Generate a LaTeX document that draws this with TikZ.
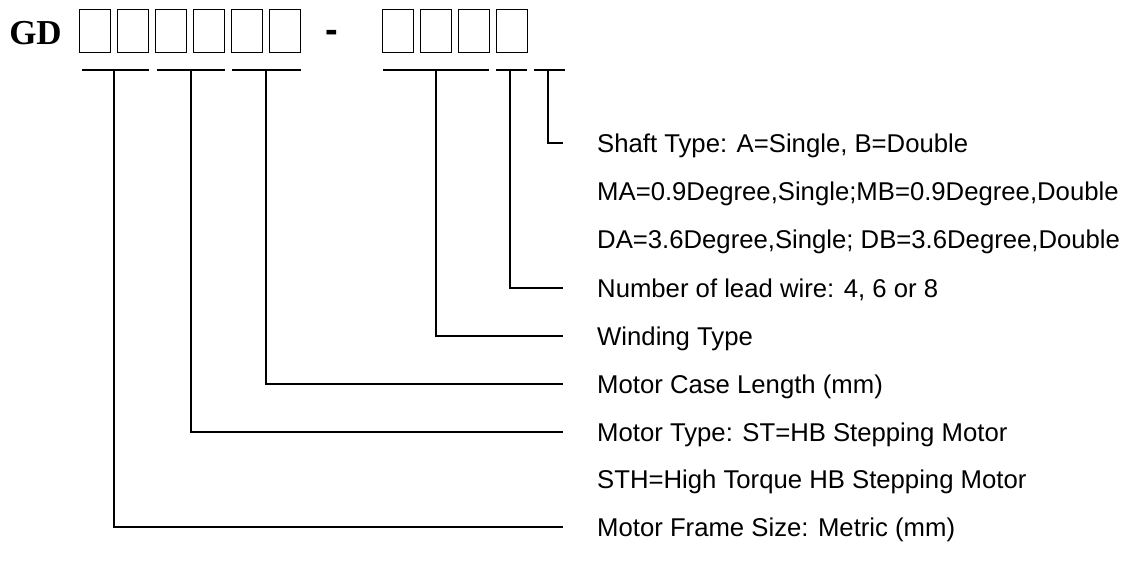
\documentclass[tikz,border=0pt]{standalone}
\usepackage{fontspec}
\setmainfont{Liberation Sans}
\newfontfamily\gdfont{Liberation Serif}
\begin{document}
\begin{tikzpicture}[x=1pt,y=-1pt,
  cell/.style={draw, line width=1.3pt, minimum width=30.5pt, minimum height=42.5pt, inner sep=0pt},
  conn/.style={line width=1.2pt, shorten >=34pt},
  uline/.style={line width=1.2pt},
  lab/.style={anchor=west, inner sep=0pt, text height=18pt, text depth=0pt,
    font=\fontsize{25.7}{30}\selectfont}]
\useasboundingbox (0,0) rectangle (1128,568);
% title
\node[inner sep=0pt, font=\gdfont\bfseries\fontsize{35}{40}\selectfont] (gd) at (35.5,33) {GD};
\foreach \i/\x in {1/95,2/133,3/171,4/209,5/247,6/285}{
  \node[cell] (a\i) at (\x,31) {};
}
\node[inner sep=0pt, font=\bfseries\fontsize{38}{40}\selectfont] (dash) at (332,36) {-};
\foreach \i/\x in {1/398,2/436,3/474,4/512}{
  \node[cell] (b\i) at (\x,31) {};
}
% underline coordinates
\coordinate (u1l) at (82,70);  \coordinate (u1r) at (149,70); \coordinate (u1m) at (114,70);
\coordinate (u2l) at (157,70); \coordinate (u2r) at (225,70); \coordinate (u2m) at (191,70);
\coordinate (u3l) at (232,70); \coordinate (u3r) at (301,70); \coordinate (u3m) at (266,70);
\coordinate (u4l) at (383,70); \coordinate (u4r) at (489,70); \coordinate (u4m) at (436,70);
\coordinate (u5l) at (496,70); \coordinate (u5r) at (527,70); \coordinate (u5m) at (510,70);
\coordinate (u6l) at (534,70); \coordinate (u6r) at (565,70); \coordinate (u6m) at (548,70);
\foreach \k in {1,...,6}{ \draw[uline] (u\k l) -- (u\k r); }
% labels
\node[lab] (t1) at (597,143) {Shaft Type: A=Single, B=Double};
\node[lab] (t2) at (597,191) {MA=0.9Degree,Single;MB=0.9Degree,Double};
\node[lab] (t3) at (597,239) {DA=3.6Degree,Single; DB=3.6Degree,Double};
\node[lab] (t4) at (597,288) {Number of lead wire: 4, 6 or 8};
\node[lab] (t5) at (597,336) {Winding Type};
\node[lab] (t6) at (597,384) {Motor Case Length (mm)};
\node[lab] (t7) at (597,432) {Motor Type: ST=HB Stepping Motor};
\node[lab] (t8) at (597,479) {STH=High Torque HB Stepping Motor};
\node[lab] (t9) at (597,527) {Motor Frame Size: Metric (mm)};
% connectors
\draw[conn] (u6m) |- (t1.west);
\draw[conn] (u5m) |- (t4.west);
\draw[conn] (u4m) |- (t5.west);
\draw[conn] (u3m) |- (t6.west);
\draw[conn] (u2m) |- (t7.west);
\draw[conn] (u1m) |- (t9.west);
\end{tikzpicture}
\end{document}
